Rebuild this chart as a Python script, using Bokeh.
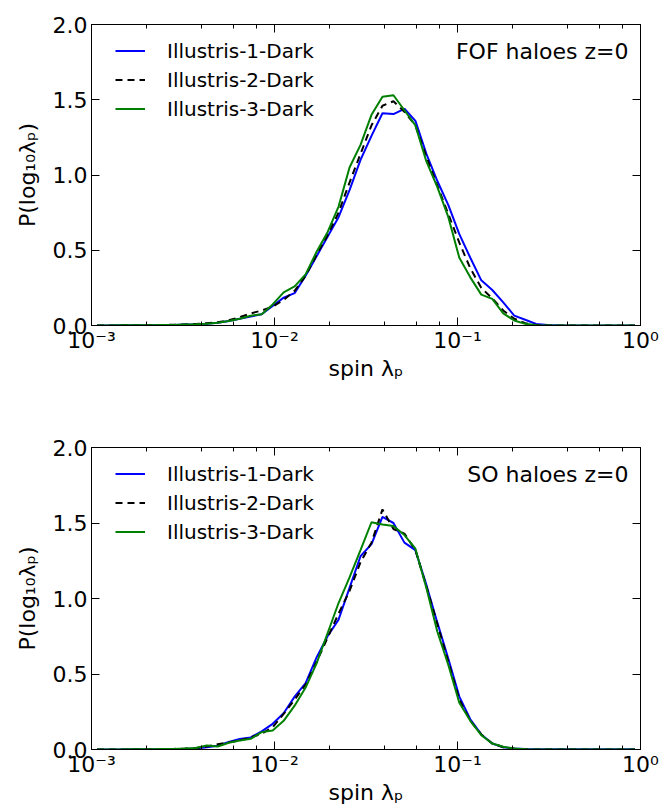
from bokeh.plotting import figure
from bokeh.models import (Range1d, LinearAxis, LogAxis, FixedTicker, LogTicker,
                          NumeralTickFormatter, CustomJSTickFormatter, Legend,
                          LegendItem, Label)
from bokeh.layouts import column
from bokeh.embed import file_html
from bokeh.resources import INLINE

# ---- data: log10 of spin bin centres and P(log10 lambda_P) per simulation ----
log_spin = [-2.97, -2.91, -2.85, -2.79, -2.73, -2.67, -2.61, -2.55, -2.49, -2.43,
            -2.37, -2.31, -2.25, -2.19, -2.13, -2.07, -2.01, -1.95, -1.89, -1.83,
            -1.77, -1.71, -1.65, -1.59, -1.53, -1.47, -1.41, -1.35, -1.29, -1.23,
            -1.17, -1.11, -1.05, -0.99, -0.93, -0.87, -0.81, -0.75, -0.69, -0.63,
            -0.57, -0.51, -0.45, -0.39, -0.33, -0.27, -0.21, -0.15, -0.09, -0.03]

fof_ill1 = [0.000, 0.000, 0.001, 0.001, 0.002, 0.002, 0.003, 0.004, 0.006, 0.008,
            0.012, 0.018, 0.030, 0.045, 0.060, 0.075, 0.130, 0.185, 0.215, 0.330,
            0.460, 0.590, 0.720, 0.900, 1.100, 1.260, 1.410, 1.405, 1.440, 1.360,
            1.140, 0.960, 0.800, 0.607, 0.450, 0.300, 0.236, 0.154, 0.066, 0.038,
            0.010, 0.003, 0.001, 0.000, 0.000, 0.000, 0.000, 0.000, 0.000, 0.000]
fof_ill2 = [0.000, 0.000, 0.001, 0.001, 0.002, 0.003, 0.004, 0.005, 0.007, 0.010,
            0.015, 0.022, 0.035, 0.055, 0.080, 0.100, 0.125, 0.170, 0.230, 0.330,
            0.470, 0.600, 0.750, 0.950, 1.140, 1.330, 1.460, 1.490, 1.420, 1.330,
            1.120, 0.930, 0.740, 0.550, 0.380, 0.250, 0.180, 0.100, 0.045, 0.015,
            0.004, 0.001, 0.000, 0.000, 0.000, 0.000, 0.000, 0.000, 0.000, 0.000]
fof_ill3 = [0.000, 0.000, 0.001, 0.001, 0.002, 0.002, 0.003, 0.004, 0.006, 0.008,
            0.012, 0.018, 0.030, 0.045, 0.065, 0.075, 0.140, 0.220, 0.260, 0.340,
            0.490, 0.620, 0.790, 1.050, 1.200, 1.400, 1.520, 1.530, 1.430, 1.330,
            1.090, 0.920, 0.720, 0.450, 0.320, 0.205, 0.177, 0.081, 0.033, 0.011,
            0.002, 0.000, 0.000, 0.000, 0.000, 0.000, 0.000, 0.000, 0.000, 0.000]

so_ill1 = [0.000, 0.000, 0.000, 0.001, 0.001, 0.002, 0.002, 0.003, 0.004, 0.006,
           0.015, 0.025, 0.050, 0.070, 0.080, 0.120, 0.170, 0.240, 0.350, 0.440,
           0.610, 0.750, 0.860, 1.070, 1.280, 1.360, 1.540, 1.500, 1.370, 1.320,
           1.090, 0.840, 0.600, 0.350, 0.200, 0.100, 0.040, 0.015, 0.006, 0.003,
           0.002, 0.001, 0.001, 0.001, 0.001, 0.001, 0.001, 0.001, 0.001, 0.001]
so_ill2 = [0.000, 0.000, 0.000, 0.001, 0.002, 0.002, 0.003, 0.004, 0.006, 0.010,
           0.020, 0.035, 0.048, 0.060, 0.080, 0.104, 0.148, 0.236, 0.330, 0.430,
           0.580, 0.740, 0.900, 1.050, 1.240, 1.370, 1.590, 1.460, 1.430, 1.320,
           1.080, 0.830, 0.580, 0.330, 0.190, 0.100, 0.040, 0.015, 0.005, 0.002,
           0.000, 0.000, 0.000, 0.000, 0.000, 0.000, 0.000, 0.000, 0.000, 0.000]
so_ill3 = [0.000, 0.000, 0.000, 0.001, 0.001, 0.002, 0.003, 0.004, 0.006, 0.010,
           0.026, 0.020, 0.045, 0.060, 0.071, 0.115, 0.126, 0.190, 0.290, 0.410,
           0.570, 0.770, 0.970, 1.140, 1.320, 1.505, 1.490, 1.480, 1.420, 1.330,
           1.070, 0.780, 0.560, 0.310, 0.190, 0.095, 0.040, 0.018, 0.006, 0.002,
           0.000, 0.000, 0.000, 0.000, 0.000, 0.000, 0.000, 0.000, 0.000, 0.000]

series_labels = ["Illustris-1-Dark", "Illustris-2-Dark", "Illustris-3-Dark"]
y_ticks = [0.0, 0.5, 1.0, 1.5, 2.0]
FONT = "DejaVu Sans"

SUP_CODE = """
const e = Math.round(Math.log10(tick));
const m = {'-': '\u207b', '0': '\u2070', '1': '\u00b9', '2': '\u00b2', '3': '\u00b3',
           '4': '\u2074', '5': '\u2075', '6': '\u2076', '7': '\u2077', '8': '\u2078', '9': '\u2079'};
return '10' + String(e).split('').map(c => m[c]).join('');
"""
BLANK_CODE = "return '';"


def style_axis(ax, minor=True):
    ax.axis_line_color = "black"
    ax.axis_line_width = 1
    ax.major_tick_line_color = "black"
    ax.major_tick_in = 8
    ax.major_tick_out = 0
    if minor:
        ax.minor_tick_line_color = "black"
        ax.minor_tick_in = 4
        ax.minor_tick_out = 0
    else:
        ax.minor_tick_line_color = None
    ax.major_label_text_font = FONT
    ax.major_label_text_font_size = "22px"
    ax.major_label_text_color = "black"
    ax.axis_label_text_font = FONT
    ax.axis_label_text_font_size = "22px"
    ax.axis_label_text_font_style = "normal"
    ax.axis_label_text_color = "black"


def make_panel(title, ys, height, b_top, b_bottom):
    p = figure(width=660, height=height, x_axis_type="log",
               x_range=Range1d(1e-3, 1.0), y_range=Range1d(0.0, 2.0),
               output_backend="svg", toolbar_location=None,
               min_border_left=91, min_border_right=20,
               min_border_top=b_top, min_border_bottom=b_bottom)
    p.xgrid.visible = False
    p.ygrid.visible = False
    p.outline_line_color = "black"
    p.outline_line_width = 1
    p.background_fill_color = "white"
    p.border_fill_color = "white"

    xs = [10 ** v for v in log_spin]
    colors = ["#0000ff", "#000000", "#008000"]
    dashes = ["solid", "7 5", "solid"]
    rends = []
    for y, c, d in zip(ys, colors, dashes):
        r = p.line(xs, y, line_color=c, line_width=2, line_dash=d)
        rends.append(r)

    # bottom (main) x axis
    xa = p.xaxis[0]
    xa.ticker = LogTicker()
    xa.formatter = CustomJSTickFormatter(code=SUP_CODE)
    xa.axis_label = "spin λₚ"
    style_axis(xa)
    xa.major_label_standoff = 2
    xa.axis_label_standoff = 0

    # left (main) y axis
    ya = p.yaxis[0]
    ya.ticker = FixedTicker(ticks=y_ticks)
    ya.formatter = NumeralTickFormatter(format="0.0")
    ya.axis_label = "P(log₁₀λₚ)"
    style_axis(ya, minor=False)
    ya.major_label_standoff = 4
    ya.axis_label_standoff = 10

    # mirrored axes (ticks only)
    top = LogAxis(ticker=LogTicker(), formatter=CustomJSTickFormatter(code=BLANK_CODE))
    style_axis(top)
    top.major_label_standoff = 0
    p.add_layout(top, "above")
    right = LinearAxis(ticker=FixedTicker(ticks=y_ticks),
                       formatter=CustomJSTickFormatter(code=BLANK_CODE))
    style_axis(right, minor=False)
    right.major_label_standoff = 0
    p.add_layout(right, "right")

    fh = height - b_top - b_bottom
    legend = Legend(items=[LegendItem(label=l, renderers=[r]) for l, r in zip(series_labels, rends)],
                    location=(24, fh - 12 - 87))
    legend.border_line_alpha = 0
    legend.background_fill_alpha = 0
    legend.margin = 0
    legend.padding = 0
    legend.spacing = 0
    legend.glyph_width = 30
    legend.glyph_height = 29
    legend.label_height = 29
    legend.label_standoff = 22
    legend.label_text_font = FONT
    legend.label_text_font_size = "20px"
    legend.label_text_color = "black"
    p.add_layout(legend)

    p.add_layout(Label(x=537, y=fh - 27, x_units="screen", y_units="screen",
                       text=title, text_align="right", text_baseline="middle",
                       text_font=FONT, text_font_size="22px", text_color="black"))
    return p


p1 = make_panel("FOF haloes z=0", [fof_ill1, fof_ill2, fof_ill3], 410, 24, 85)
p2 = make_panel("SO haloes z=0", [so_ill1, so_ill2, so_ill3], 399, 37, 60)

layout = column(p1, p2, spacing=0)
open("out.html", "w").write(file_html(layout, INLINE))
